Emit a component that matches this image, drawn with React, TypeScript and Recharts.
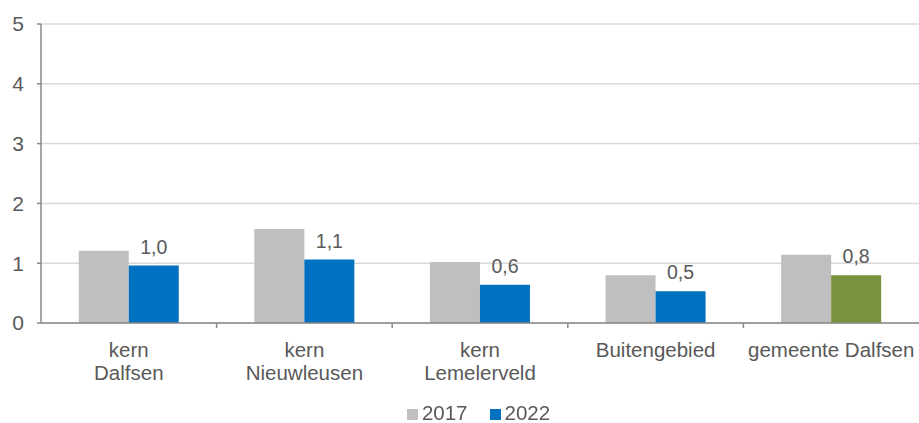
import React from 'react'
import {
  BarChart,
  Bar,
  XAxis,
  YAxis,
  CartesianGrid,
  Legend,
  LabelList,
  Cell
} from 'recharts'

// Categories and values
const categories = ['kern\nDalfsen', 'kern\nNieuwleusen', 'kern\nLemelerveld', 'Buitengebied', 'gemeente Dalfsen']
const values2017 = [1.21, 1.57, 1.02, 0.8, 1.14]
const values2022 = [0.96, 1.06, 0.64, 0.53, 0.8]
const yTicks = [0, 1, 2, 3, 4, 5]

const TEXT = '#595959'
const FONT = '"Liberation Sans", Arial, sans-serif'
const GREY = '#BFBFBF'
const BLUE = '#0070C0'
const GREEN = '#77933C'

const data = categories.map((name, i) => ({
  name,
  y2017: values2017[i],
  y2022: values2022[i]
}))

const formatNl = (v: any) => Number(v).toFixed(1).replace('.', ',')

// Category label (multi-line) plus a tick mark at the band's right edge
const CategoryTick = ({ x, y, payload }: any) => {
  const lines = String(payload.value).split('\n')
  const half = payload.offset || 0
  const isLast = payload.index === categories.length - 1
  return (
    <g>
      {!isLast && (
        <line x1={x + half} x2={x + half} y1={y - 8} y2={y - 3} stroke="#898989" strokeWidth={1.5} />
      )}
      <text x={x} y={y} textAnchor="middle" fill={TEXT} fontSize={20.5} fontFamily={FONT}>
        {lines.map((l, i) => (
          <tspan key={i} x={x} dy={i === 0 ? 26 : 23}>
            {l}
          </tspan>
        ))}
      </text>
    </g>
  )
}

export default function App() {
  return (
    <div style={{ position: 'fixed', left: 0, top: 0, width: 919, height: 423, background: '#fff' }}>
      <BarChart
        width={919}
        height={423}
        data={data}
        margin={{ top: 24, right: 0, left: 0, bottom: 0 }}
        barCategoryGap="21.5%"
        barGap={0}
      >
        <CartesianGrid vertical={false} stroke="#D9D9D9" strokeWidth={1.5} />
        <XAxis
          dataKey="name"
          interval={0}
          height={74}
          axisLine={{ stroke: '#898989', strokeWidth: 1.5 }}
          tickLine={false}
          tick={<CategoryTick />}
        />
        <YAxis
          domain={[0, 5]}
          ticks={yTicks}
          width={41}
          tickSize={4}
          tickMargin={13}
          axisLine={{ stroke: '#898989', strokeWidth: 1.5 }}
          tickLine={{ stroke: '#898989', strokeWidth: 1.5 }}
          tick={{ fill: TEXT, fontSize: 21, fontFamily: FONT }}
        />
        <Legend
          verticalAlign="bottom"
          iconType="square"
          iconSize={11}
          height={26}
          wrapperStyle={{ fontFamily: FONT, fontSize: 20.5, paddingLeft: 30, bottom: -4 }}
          formatter={(value: any) => (
            <span style={{ color: TEXT, marginRight: 12 }}>{value}</span>
          )}
        />
        <Bar dataKey="y2017" name="2017" fill={GREY} isAnimationActive={false} />
        <Bar dataKey="y2022" name="2022" fill={BLUE} isAnimationActive={false}>
          {data.map((_, i) => (
            <Cell key={i} fill={i === categories.length - 1 ? GREEN : BLUE} />
          ))}
          <LabelList
            dataKey="y2022"
            position="top"
            offset={12}
            formatter={formatNl}
            fill={TEXT}
            fontSize={19.5}
            fontFamily={FONT}
          />
        </Bar>
      </BarChart>
    </div>
  )
}
